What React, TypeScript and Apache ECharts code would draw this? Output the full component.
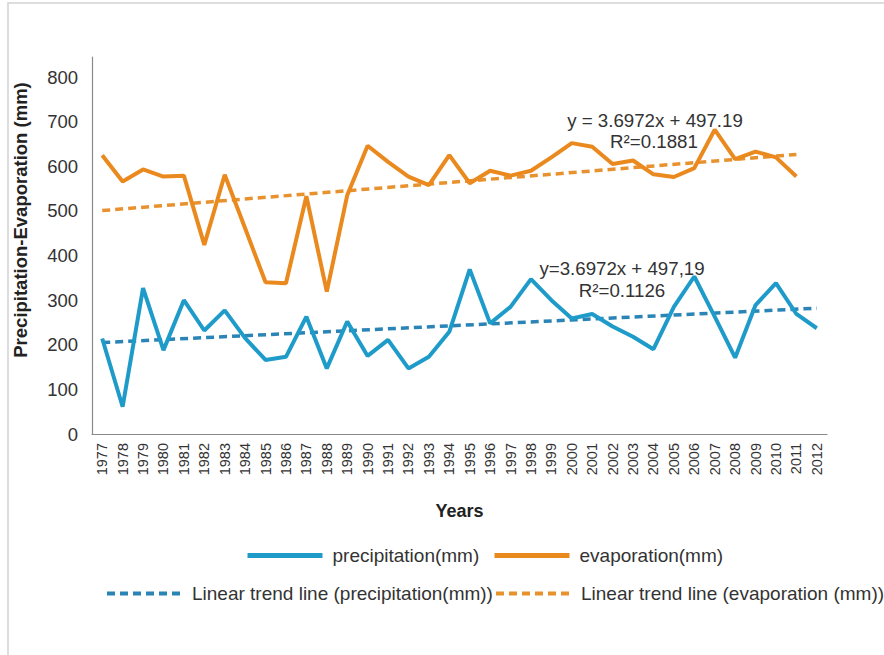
import React, { useEffect, useRef } from "react";
import * as echarts from "echarts";

// Years on the category axis
const years: string[] = [
  "1977", "1978", "1979", "1980", "1981", "1982", "1983", "1984", "1985",
  "1986", "1987", "1988", "1989", "1990", "1991", "1992", "1993", "1994",
  "1995", "1996", "1997", "1998", "1999", "2000", "2001", "2002", "2003",
  "2004", "2005", "2006", "2007", "2008", "2009", "2010", "2011", "2012",
];

// Annual precipitation (mm), 1977–2012
const precipitation: number[] = [
  214, 61, 327, 188, 300, 232, 277, 215, 166, 173, 263, 147, 252, 175, 211,
  147, 173, 229, 369, 248, 285, 347, 300, 259, 269, 241, 218, 190, 285, 353,
  263, 171, 289, 338, 269, 237,
];

// Annual evaporation (mm), 1977–2011
const evaporation: number[] = [
  625, 566, 593, 577, 579, 424, 581, 461, 340, 338, 533, 319, 535, 646, 610,
  577, 558, 625, 562, 590, 579, 590, 620, 652, 644, 605, 613, 582, 576, 596,
  682, 616, 633, 620, 577,
];

// Trend line end points
const precipTrendStart = 205;
const precipTrendEnd = 282;
const evapSlope = 3.6972;
const evapIntercept = 497.19;

const yTicks = { min: 0, max: 845, interval: 100 };

const seriesNames = {
  precip: "precipitation(mm)",
  evap: "evaporation(mm)",
  precipTrend: "Linear trend line (precipitation(mm))",
  evapTrend: "Linear trend line (evaporation (mm))",
};

const BLUE = "#1f9bca";
const ORANGE = "#ea891e";
const BLUE_DASH = "#2a84b6";
const ORANGE_DASH = "#e8922f";
const TEXT = "#333333";
const FONT = "'Liberation Sans', Arial, Helvetica, sans-serif";

export default function App() {
  const ref = useRef<HTMLDivElement>(null);

  useEffect(() => {
    if (!ref.current) return;
    const chart = echarts.init(ref.current, undefined, { renderer: "svg" });

    const evapLast = evaporation.length - 1;
    const evapTrend: [string, number][] = [
      [years[0], evapSlope * 1 + evapIntercept],
      [years[evapLast], evapSlope * (evapLast + 1) + evapIntercept],
    ];
    const precipTrend: [string, number][] = [
      [years[0], precipTrendStart],
      [years[years.length - 1], precipTrendEnd],
    ];

    // legend keys are plain lines: the marker dot is made invisible
    const legendBase = {
      orient: "horizontal" as const,
      padding: 0,
      itemWidth: 75,
      itemHeight: 14,
      selectedMode: false,
      itemStyle: { color: "transparent", borderColor: "transparent", borderWidth: 0, opacity: 0 },
      textStyle: {
        fontSize: 19,
        color: TEXT,
        fontFamily: FONT,
        padding: [0, 0, 0, 5],
      },
    };

    const annotation = (text: string, x: number, y: number) => ({
      type: "text",
      x,
      y,
      style: {
        text,
        fill: TEXT,
        font: `18.7px ${FONT}`,
        textAlign: "center",
        textVerticalAlign: "middle",
      },
    });

    chart.setOption({
      animation: false,
      backgroundColor: "#ffffff",
      textStyle: { fontFamily: FONT },
      grid: { left: 92, right: 57, top: 57, bottom: 221, containLabel: false },
      legend: [
        { ...legendBase, left: 245, top: 546, data: [seriesNames.precip], lineStyle: { width: 5 } },
        { ...legendBase, left: 492, top: 546, data: [seriesNames.evap], lineStyle: { width: 5 } },
        { ...legendBase, left: 105, top: 584, data: [seriesNames.precipTrend], lineStyle: { width: 4 } },
        { ...legendBase, left: 494, top: 584, data: [seriesNames.evapTrend], lineStyle: { width: 4 } },
      ],
      xAxis: {
        type: "category",
        data: years,
        boundaryGap: true,
        name: "Years",
        nameLocation: "middle",
        nameGap: 68,
        nameTextStyle: { fontSize: 18, fontWeight: "bold", color: "#222", fontFamily: FONT },
        axisLine: { lineStyle: { color: "#8a8a8a", width: 1.2 } },
        axisTick: { show: false },
        axisLabel: {
          interval: 0,
          rotate: 90,
          fontSize: 14.5,
          color: TEXT,
          margin: 9,
          fontFamily: FONT,
        },
        splitLine: { show: false },
      },
      yAxis: {
        type: "value",
        min: yTicks.min,
        max: yTicks.max,
        interval: yTicks.interval,
        axisLine: { show: true, lineStyle: { color: "#8a8a8a", width: 1.2 } },
        axisTick: { show: false },
        axisLabel: {
          fontSize: 18.5,
          color: TEXT,
          margin: 14,
          showMaxLabel: false,
          fontFamily: FONT,
        },
        splitLine: { show: false },
      },
      series: [
        {
          name: seriesNames.precip,
          type: "line",
          data: precipitation,
          symbol: "none",
          lineStyle: { color: BLUE, width: 4 },
          itemStyle: { color: BLUE },
          z: 3,
        },
        {
          name: seriesNames.evap,
          type: "line",
          data: evaporation,
          symbol: "none",
          lineStyle: { color: ORANGE, width: 4 },
          itemStyle: { color: ORANGE },
          z: 3,
        },
        {
          name: seriesNames.precipTrend,
          type: "line",
          data: precipTrend,
          symbol: "none",
          lineStyle: { color: BLUE_DASH, width: 3.5, type: [8, 5] },
          itemStyle: { color: BLUE_DASH },
          z: 2,
        },
        {
          name: seriesNames.evapTrend,
          type: "line",
          data: evapTrend,
          symbol: "none",
          lineStyle: { color: ORANGE_DASH, width: 3.5, type: [8, 5] },
          itemStyle: { color: ORANGE_DASH },
          z: 2,
        },
      ],
      graphic: [
        {
          type: "rect",
          shape: { x: 8, y: 3, width: 1000, height: 1000 },
          style: { fill: "none", stroke: "#d2d2d2", lineWidth: 1.5 },
          silent: true,
        },
        {
          type: "text",
          x: 20,
          y: 220,
          rotation: Math.PI / 2,
          style: {
            text: "Precipitation-Evaporation (mm)",
            fill: "#222",
            font: `bold 18.5px ${FONT}`,
            textAlign: "center",
            textVerticalAlign: "middle",
          },
        },
        annotation("y = 3.6972x + 497.19", 655, 120),
        annotation("R\u00B2=0.1881", 654, 141),
        annotation("y=3.6972x + 497,19", 622, 268),
        annotation("R\u00B2=0.1126", 622, 290),
      ],
    });

    return () => chart.dispose();
  }, []);

  return (
    <div
      ref={ref}
      style={{ position: "fixed", left: 0, top: 0, width: 884, height: 655 }}
    />
  );
}
